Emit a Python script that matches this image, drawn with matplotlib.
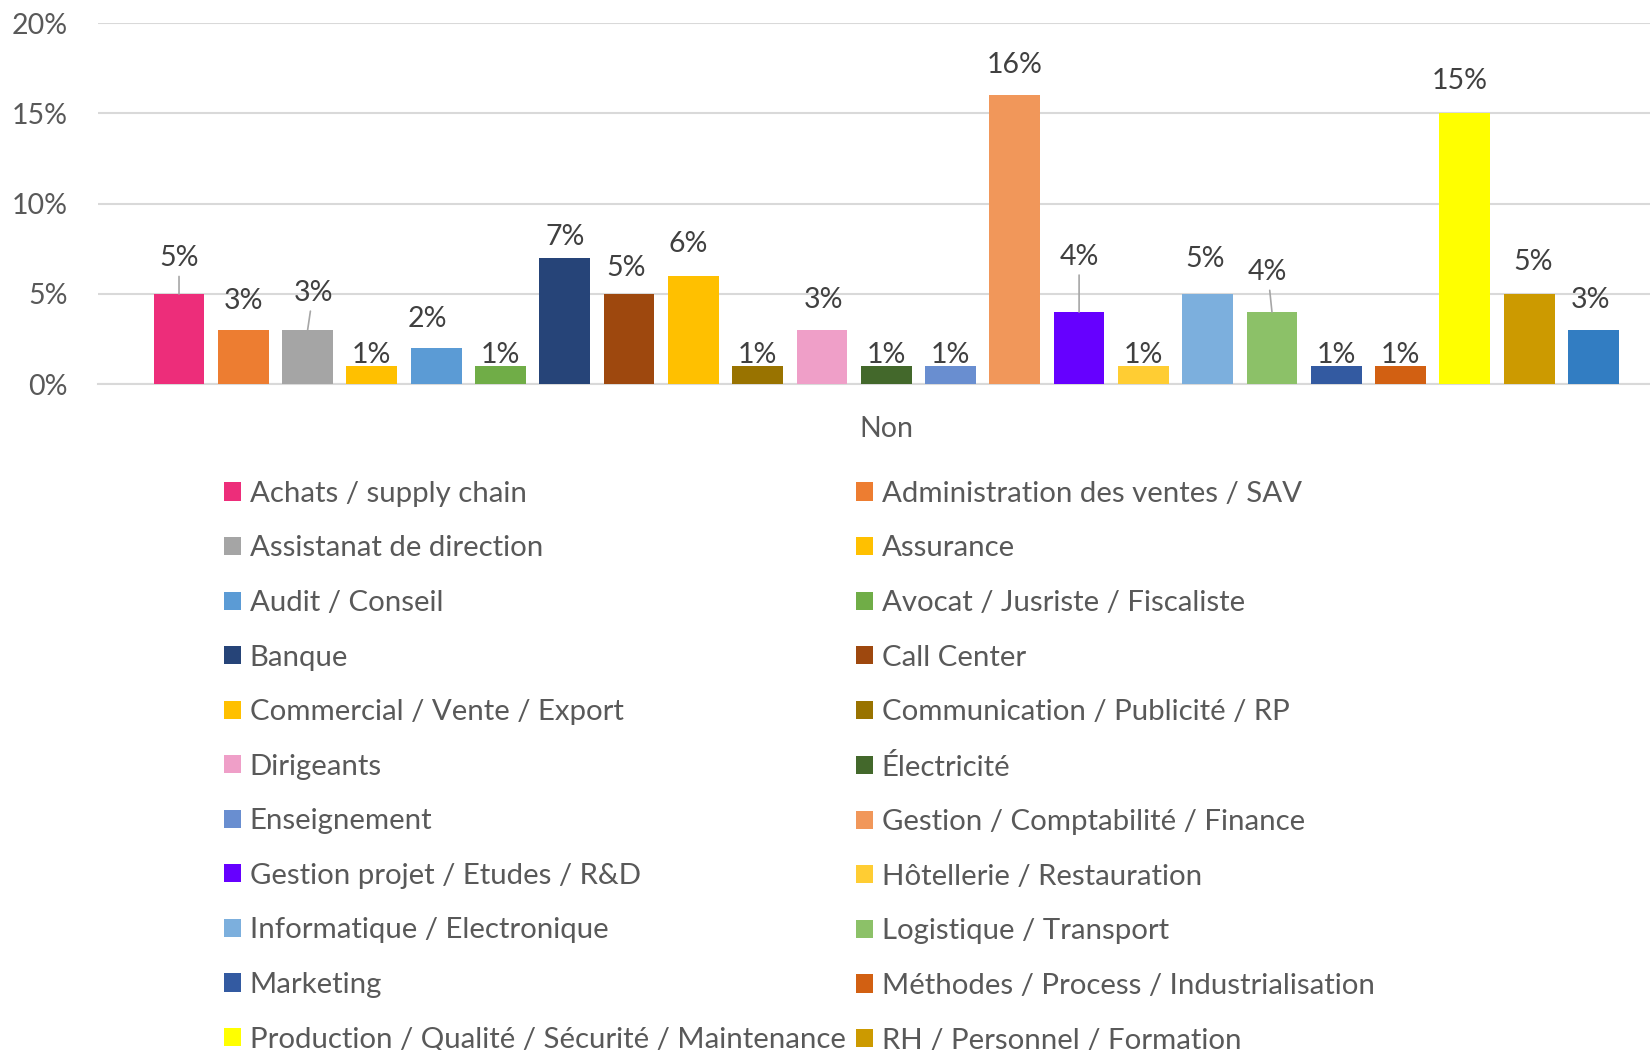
import matplotlib.pyplot as plt
from matplotlib.patches import Patch

# Données
categories = [
    "Achats / supply chain", "Administration des ventes / SAV",
    "Assistanat de direction", "Assurance",
    "Audit / Conseil", "Avocat / Jusriste / Fiscaliste",
    "Banque", "Call Center",
    "Commercial / Vente / Export", "Communication / Publicité / RP",
    "Dirigeants", "Électricité",
    "Enseignement", "Gestion / Comptabilité / Finance",
    "Gestion projet / Etudes / R&D", "Hôtellerie / Restauration",
    "Informatique / Electronique", "Logistique / Transport",
    "Marketing", "Méthodes / Process / Industrialisation",
    "Production / Qualité / Sécurité / Maintenance", "RH / Personnel / Formation",
]
# la 23e série (bleue) n'a pas de libellé visible dans la légende (coupée)
valeurs = [5, 3, 3, 1, 2, 1, 7, 5, 6, 1, 3, 1, 1, 16, 4, 1, 5, 4, 1, 1, 15, 5, 3]
couleurs = [
    "#ED2D7A", "#ED7D31", "#A5A5A5", "#FFC000", "#5B9BD5", "#70AD47",
    "#264478", "#9E480E", "#FFC000", "#997300", "#EF9FC8", "#43682B",
    "#698ED0", "#F1975A", "#6600FF", "#FFCD33", "#7CAFDD", "#8CC168",
    "#335AA1", "#D26012", "#FFFF00", "#CC9A00", "#327DC2",
]
groupe = "Non"

# décalages des étiquettes (points) et traits de rappel
label_dx = [0, 0, 4, 0, -6, 0, 0, -2, -4, 0, 1, 0, 0, 0, 0, 0, -2, -3, 0, 0, -4, 3, -2]
label_dy = [26, 21, 27, 8, 21, 8, 15, 19, 23, 8, 22, 8, 8, 22, 40, 8, 25, 29, 8, 8, 23, 23, 22]
leader = [True, False, True, False, False, False, False, False, False, False, False, False,
          False, False, True, False, False, True, False, False, False, False, False]

plt.rcParams['font.family'] = ['Lato', 'DejaVu Sans']
fs = 20.5
fs_leg = 21.2

fig = plt.figure(figsize=(16.5, 10.5), dpi=100)
ax = fig.add_axes([0.0594, 0.634, 0.9406, 0.344])

x = list(range(len(valeurs)))
bars = ax.bar(x, [v / 100 for v in valeurs], width=0.79, color=couleurs, zorder=3)

for i, v in enumerate(valeurs):
    props = None
    if leader[i]:
        props = dict(arrowstyle='-', color='#A6A6A6', lw=1.2, shrinkA=2, shrinkB=0)
    ax.annotate(f"{v}%", xy=(i, v / 100), xytext=(label_dx[i], label_dy[i]),
                textcoords='offset points', ha='center', va='center',
                fontsize=fs, color='#404040', arrowprops=props, zorder=4)

ax.set_ylim(0, 0.20)
ax.set_xlim(-1.26, 22.88)
ax.set_yticks([0, 0.05, 0.10, 0.15, 0.20])
ax.set_yticklabels(["0%", "5%", "10%", "15%", "20%"])
ax.set_xticks([11])
ax.set_xticklabels([groupe])
ax.tick_params(axis='y', length=0, pad=22, labelsize=fs, labelcolor='#595959')
ax.tick_params(axis='x', length=0, pad=23, labelsize=fs, labelcolor='#595959')
ax.grid(axis='y', color='#D9D9D9', lw=1.5, zorder=0)
for s in ['top', 'right', 'left']:
    ax.spines[s].set_visible(False)
ax.spines['bottom'].set_color('#D9D9D9')
ax.spines['bottom'].set_linewidth(1.5)

# légende en lignes (ordre Excel) -> réordonner pour matplotlib
n = len(categories)
handles = [Patch(facecolor=c, edgecolor='none') for c in couleurs[:n]]
order = list(range(0, n, 2)) + list(range(1, n, 2))
fig.legend([handles[i] for i in order], [categories[i] for i in order],
           loc='upper left', bbox_to_anchor=(0.1358, 0.542), ncol=2, frameon=False,
           fontsize=fs_leg, labelcolor='#595959', handlelength=0.57, handleheight=0.57,
           handletextpad=0.3, columnspacing=0.36, labelspacing=0.97,
           borderaxespad=0, borderpad=0)

fig.savefig("out.png", dpi=100)
